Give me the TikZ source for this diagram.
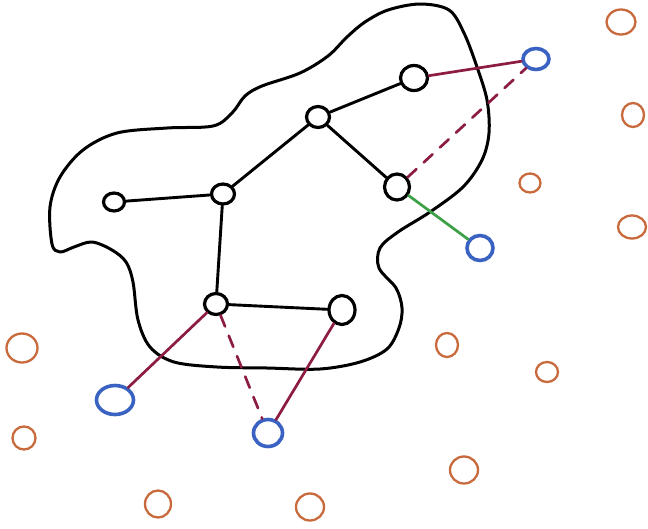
\documentclass[tikz,border=0pt]{standalone}
\usetikzlibrary{shapes.geometric}
\definecolor{inkblue}{HTML}{3A62C2}
\definecolor{inkred}{HTML}{8C1C42}
\definecolor{inkgreen}{HTML}{3CA046}
\definecolor{inkorange}{HTML}{C86A3C}
\tikzset{
  pt/.style={ellipse, draw, fill=white, inner sep=0pt, line width=3.2pt},
  core/.style={pt, draw=black, minimum width=#1},
  outer/.style={pt, draw=inkblue, line width=3.6pt},
  loose/.style={ellipse, draw=inkorange, inner sep=0pt, line width=2.3pt},
  tie/.style={line width=2.9pt, line cap=round},
  hard/.style={tie, inkred, line width=2.7pt},
  soft/.style={hard, dash pattern=on 12pt off 10pt},
}
\begin{document}
\begin{tikzpicture}[x=1pt, y=-1pt]
\useasboundingbox[fill=white] (0,0) rectangle (648,528);

% the region boundary
\draw[line width=3pt, line join=round] plot[smooth cycle, tension=0.55] coordinates {
  (50,207) (60,177) (83,150) (117,133) (167,128) (213,126) (232,113) (245,96)
  (262,86) (300,73) (328,56) (347,37) (365,22) (388,10) (420,4) (449,10)
  (464,33) (477,67) (487,100) (489,133) (482,160) (463,187) (430,212)
  (398,232) (380,248) (379,268) (396,288) (402,308) (399,328) (387,349)
  (360,362) (320,369) (267,368) (217,367) (174,362) (150,347) (138,320)
  (133,282) (126,262) (112,250) (92,242) (74,247) (60,252) (52,244)};

% inner points
\node[core=21pt, minimum height=18pt] (a) at (114,202) {};
\node[core=23pt, minimum height=20pt] (b) at (223,194) {};
\node[core=23pt, minimum height=21pt] (c) at (318,117) {};
\node[core=27pt, minimum height=25pt] (d) at (414,78) {};
\node[core=25pt, minimum height=26pt] (e) at (397,187) {};
\node[core=23pt, minimum height=21pt] (f) at (216,304) {};
\node[core=26pt, minimum height=29pt] (g) at (342,310) {};

% outer points
\node[outer, minimum width=26pt, minimum height=21pt] (p) at (536,59) {};
\node[outer, minimum width=26pt, minimum height=25pt] (q) at (480,248) {};
\node[outer, minimum width=37pt, minimum height=29pt] (r) at (115,400) {};
\node[outer, minimum width=29pt, minimum height=27pt] (s) at (268,433) {};

% scattered points
\node[loose, minimum width=29pt, minimum height=25pt] (o1) at (621,22) {};
\node[loose, minimum width=22pt, minimum height=24pt] (o2) at (633,115) {};
\node[loose, minimum width=21pt, minimum height=19pt] (o3) at (530,183) {};
\node[loose, minimum width=28pt, minimum height=23pt] (o4) at (632,227) {};
\node[loose, minimum width=31pt, minimum height=29pt] (o5) at (22,348) {};
\node[loose, minimum width=22pt, minimum height=24pt] (o6) at (447,345) {};
\node[loose, minimum width=22pt, minimum height=20pt] (o7) at (547,372) {};
\node[loose, minimum width=23pt, minimum height=23pt] (o8) at (24,438) {};
\node[loose, minimum width=28pt, minimum height=27pt] (o9) at (464,470) {};
\node[loose, minimum width=26pt, minimum height=27pt] (o10) at (158,504) {};
\node[loose, minimum width=28pt, minimum height=27pt] (o11) at (310,507) {};

% inner edges
\draw[tie] (a) -- (b);
\draw[tie] (b) -- (c);
\draw[tie] (c) -- (d);
\draw[tie] (c) -- (e);
\draw[tie] (b) -- (f);
\draw[tie] (f) -- (g);

% crossing edges
\draw[hard] (d) -- (p);
\draw[soft] (e) -- (p);
\draw[tie, inkgreen, line width=2.7pt] (e) -- (q);
\draw[hard] (f) -- (r);
\draw[soft] (f) -- (s);
\draw[hard] (g) -- (s);
\end{tikzpicture}
\end{document}
